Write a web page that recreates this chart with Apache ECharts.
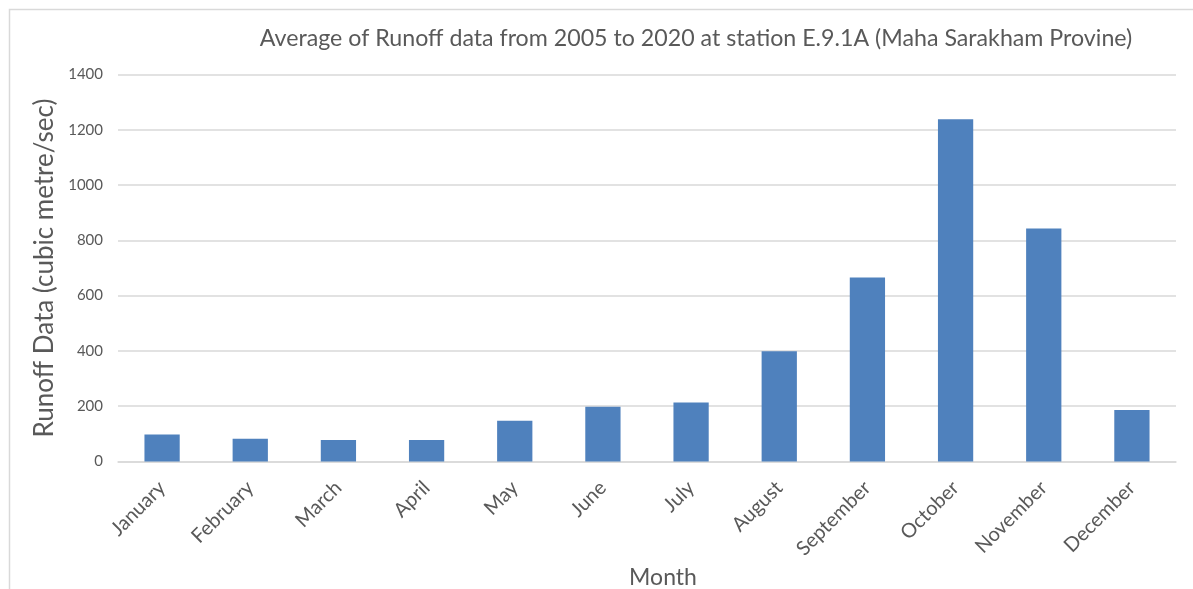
<!DOCTYPE html>
<html>
<head>
<meta charset="utf-8">
<script src="https://cdn.jsdelivr.net/npm/echarts@6/dist/echarts.min.js"></script>
<style>
html,body{margin:0;padding:0;background:#fff;}
#chart{width:1193px;height:589px;}
</style>
</head>
<body>
<div id="chart"></div>
<script>
const months = ['January','February','March','April','May','June','July','August','September','October','November','December'];
const runoff = [98, 82, 78, 78, 147, 198, 213, 399, 666, 1238, 843, 186];
const yTicks = [0, 200, 400, 600, 800, 1000, 1200, 1400];
const titleText = 'Average of Runoff data from 2005 to 2020 at station E.9.1A (Maha Sarakham Provine)';
const yAxisTitle = 'Runoff Data (cubic metre/sec)';
const xAxisTitle = 'Month';

const FONT = 'Lato';
const chart = echarts.init(document.getElementById('chart'));
chart.setOption({
  animation: false,
  backgroundColor: '#fff',
  graphic: [{
    type: 'rect', left: 7, top: 7, silent: true,
    shape: {width: 1200, height: 600},
    style: {fill: 'none', stroke: '#d9d9d9', lineWidth: 1.5}
  }],
  title: {
    text: titleText,
    left: 691, top: 22,
    textAlign: 'center',
    textStyle: {fontFamily: FONT, fontSize: 23.2, fontWeight: 'normal', color: '#595959'}
  },
  grid: {left: 118, right: 17, top: 74.5, bottom: 127.5, containLabel: false, outerBoundsMode: 'none'},
  xAxis: {
    type: 'category',
    data: months,
    name: xAxisTitle,
    nameLocation: 'middle',
    nameGap: 104,
    nameTextStyle: {fontFamily: FONT, fontSize: 23, color: '#595959', padding: [0, 0, 0, 32]},
    axisLine: {show: true, lineStyle: {color: '#d9d9d9', width: 1.5}},
    axisTick: {show: false},
    axisLabel: {rotate: 45, fontFamily: FONT, fontSize: 20, color: '#595959', margin: 23, interval: 0}
  },
  yAxis: {
    type: 'value',
    min: yTicks[0], max: yTicks[yTicks.length - 1], interval: yTicks[1] - yTicks[0],
    name: yAxisTitle,
    nameLocation: 'middle',
    nameGap: 59,
    nameTextStyle: {fontFamily: FONT, fontSize: 26, color: '#595959'},
    axisLine: {show: false},
    axisTick: {show: false},
    axisLabel: {fontFamily: FONT, fontSize: 15, color: '#595959', margin: 15, formatter: v => String(v)},
    splitLine: {lineStyle: {color: '#d9d9d9', width: 1.5}}
  },
  series: [{
    type: 'bar',
    data: runoff,
    barWidth: '40%',
    itemStyle: {color: '#4f81bd'}
  }]
});
</script>
</body>
</html>
